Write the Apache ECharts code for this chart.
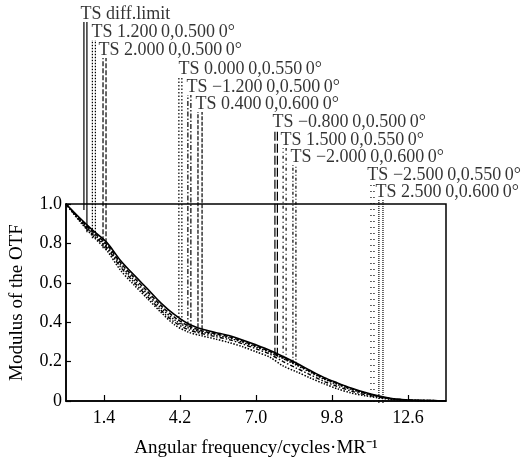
<!DOCTYPE html>
<html>
<head>
<meta charset="utf-8">
<script src="https://cdn.jsdelivr.net/npm/echarts@6/dist/echarts.min.js"></script>
<style>
html,body{margin:0;padding:0;background:#fff;}
#chart{width:527px;height:459px;}
</style>
</head>
<body>
<div id="chart"></div>
<script>
// ---- data ----
const xTicks = [1.4, 4.2, 7.0, 9.8, 12.6];
const freq = [0,0.5,1,1.5,2,2.5,3,3.5,4,4.5,5,5.5,6,6.5,7,7.5,8,8.5,9,9.5,10,10.5,11,11.5,12,12.5,13,13.5,14];
const otfDiffLimit = [1.0,0.93,0.865,0.805,0.715,0.64,0.57,0.497,0.438,0.392,0.365,0.348,0.332,0.31,0.285,0.258,0.226,0.192,0.155,0.12,0.092,0.066,0.044,0.026,0.013,0.006,0.003,0.002,0.001];
const otfFieldA = [1.0,0.925,0.857,0.795,0.703,0.627,0.556,0.484,0.425,0.382,0.357,0.341,0.326,0.304,0.279,0.252,0.22,0.186,0.15,0.115,0.088,0.062,0.041,0.024,0.012,0.006,0.003,0.002,0.001];
const otfFieldB = [1.0,0.92,0.85,0.785,0.692,0.614,0.543,0.472,0.412,0.372,0.35,0.335,0.32,0.298,0.274,0.247,0.215,0.181,0.146,0.111,0.084,0.059,0.039,0.023,0.011,0.005,0.003,0.002,0.001];
const otfFieldC = [1.0,0.917,0.843,0.777,0.682,0.603,0.531,0.46,0.4,0.362,0.342,0.327,0.312,0.29,0.265,0.238,0.2,0.166,0.133,0.1,0.074,0.051,0.033,0.02,0.01,0.005,0.003,0.002,0.001];
const otfFieldD = [1.0,0.913,0.835,0.765,0.665,0.59,0.52,0.45,0.387,0.35,0.331,0.315,0.297,0.276,0.25,0.223,0.178,0.148,0.117,0.088,0.062,0.041,0.027,0.016,0.008,0.004,0.002,0.001,0.001];

const labelNames = ['TS diff.limit','TS 1.200\u20090,0.500\u20090°','TS 2.000\u20090,0.500\u20090°','TS 0.000\u20090,0.550\u20090°','TS \u22121.200\u20090,0.500\u20090°','TS 0.400\u20090,0.600\u20090°','TS \u22120.800\u20090,0.500\u20090°','TS 1.500\u20090,0.550\u20090°','TS \u22122.000\u20090,0.600\u20090°','TS \u22122.500\u20090,0.550\u20090°','TS 2.500\u20090,0.600\u20090°'];
const labelX = [0.59,0.99,1.25,4.18,4.47,4.80,7.62,7.92,8.28,11.10,11.40];
const labelY = [1.945,1.856,1.766,1.672,1.582,1.498,1.408,1.318,1.234,1.144,1.060];
const leaderX = [[0.73,0.84],[1.04,1.15],[1.43,1.54],[4.21,4.32],[4.54,4.65],[4.91,5.06],[7.73,7.82],[8.03,8.14],[8.39,8.50],[11.25,11.36],[11.54,11.69]];
const leaderBottom = [[0.97,0.86],[0.83,0.83],[0.78,0.77],[0.40,0.40],[0.39,0.38],[0.36,0.35],[0.24,0.24],[0.23,0.22],[0.21,0.20],[0.015,0.015],[0.01,0.01]];

// ---- styles ----
const FONT = '"Liberation Serif","Times New Roman",serif';
const leaderDash = ['solid',[1.5,1.5],[5,2],[1.5,2],[5,2,1.5,2],[4,1.5],[9,3],[3,3,1,3],[3,2,1,2],[1,5],[1,1]];
const curveDefs = [
  {d: otfDiffLimit, t: 'solid', w: 1.6},
  {d: otfFieldA, t: [4,2], w: 1.5},
  {d: otfFieldB, t: [1.5,1.5], w: 1.5},
  {d: otfFieldC, t: [4,2,1.5,2], w: 1.4},
  {d: otfFieldD, t: [1.5,1.5], w: 1.5}
];

const series = [];
curveDefs.forEach(c => {
  series.push({
    type: 'line', xAxisIndex: 0, yAxisIndex: 0, smooth: 0.3, showSymbol: false, silent: true,
    data: freq.map((f,i) => [f, c.d[i]]),
    lineStyle: {color: '#000', width: c.w, type: c.t}
  });
});
leaderX.forEach((xs, i) => {
  xs.forEach((x, j) => {
    series.push({
      type: 'line', xAxisIndex: 1, yAxisIndex: 1, showSymbol: false, silent: true,
      data: [[x, leaderBottom[i][j]], [x, labelY[i] - 0.04]],
      lineStyle: {color: '#000', width: 1.2, type: leaderDash[i]}
    });
  });
});
series.push({
  type: 'scatter', xAxisIndex: 1, yAxisIndex: 1, silent: true, symbolSize: 1,
  itemStyle: {color: 'rgba(0,0,0,0)'},
  data: labelNames.map((n, i) => ({name: n, value: [labelX[i], labelY[i]]})),
  label: {show: true, position: 'right', distance: 0, formatter: '{b}', color: '#000', fontFamily: FONT, fontSize: 18}
});

const chart = echarts.init(document.getElementById('chart'), null, {renderer: 'canvas'});
chart.setOption({
  animation: false,
  backgroundColor: '#fff',
  grid: [
    {left: 64, right: 81, top: 204, bottom: 54, show: true, borderColor: '#000', borderWidth: 1.5, backgroundColor: 'transparent'},
    {left: 64, right: 81, top: 3, bottom: 54, show: false}
  ],
  xAxis: [
    {gridIndex: 0, type: 'value', min: 0, max: 14,
     axisLine: {show: true, lineStyle: {color: '#000', width: 1.5}},
     axisTick: {show: true, inside: true, length: 6, customValues: xTicks, lineStyle: {color: '#000', width: 1.2}},
     axisLabel: {customValues: xTicks, formatter: v => v.toFixed(1), color: '#000', fontFamily: FONT, fontSize: 18, margin: 8},
     splitLine: {show: false},
     name: 'Angular frequency/cycles·MR\u207B\u00B9', nameLocation: 'middle', nameGap: 38,
     nameTextStyle: {color: '#000', fontFamily: FONT, fontSize: 19}},
    {gridIndex: 1, type: 'value', min: 0, max: 14, show: false}
  ],
  yAxis: [
    {gridIndex: 0, type: 'value', min: 0, max: 1, interval: 0.2,
     axisLine: {show: true, lineStyle: {color: '#000', width: 1.5}},
     axisTick: {show: true, inside: true, length: 5, lineStyle: {color: '#000', width: 1.2}},
     axisLabel: {formatter: v => v === 0 ? '0' : v.toFixed(1), color: '#000', fontFamily: FONT, fontSize: 18, margin: 4},
     splitLine: {show: false},
     name: 'Modulus of the OTF', nameLocation: 'middle', nameGap: 39, nameRotate: 90,
     nameTextStyle: {color: '#000', fontFamily: FONT, fontSize: 19}},
    {gridIndex: 1, type: 'value', min: 0, max: 2, show: false}
  ],
  series: series
});
</script>
</body>
</html>
